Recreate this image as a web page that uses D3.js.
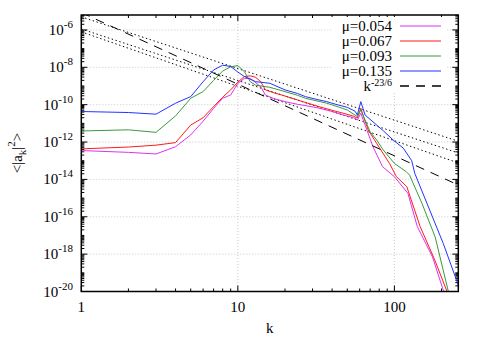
<!DOCTYPE html>
<html>
<head>
<meta charset="utf-8"/>
<script src="https://cdn.jsdelivr.net/npm/d3@7"></script>
<style>
body { margin: 0; background: #fff; }
svg text { font-family: "Liberation Serif", "Times New Roman", "DejaVu Serif", serif; fill: #000; }
.grid { stroke: #bbb; stroke-width: 0.8; stroke-dasharray: 1,2; }
.tick { stroke: #000; stroke-width: 1; }
.curve { fill: none; stroke-width: 1; stroke-linejoin: round; }
</style>
</head>
<body>
<svg id="chart" width="485" height="339" font-family="Liberation Serif, Times New Roman, serif"></svg>
<script>
// spectra <|a_k|^2>, [k, value]
var mu054 = [[1,3.5e-13],[2,2.8e-13],[3,2.3e-13],[4,5.6e-13],[5,2.4e-12],[6,1.3e-11],[7,6.3e-11],[8,2.2e-10],
  [9,3.3e-10],[10,1.4e-9],[11,2.5e-9],[12,2.6e-9],[14,9.1e-10],[15,3.3e-10],[17,2.1e-10],[20,1.45e-10],[24,1.05e-10],
  [28,8.5e-11],[33,6.5e-11],[40,4.3e-11],[47,2.8e-11],[55,2.0e-11],[58,1.5e-11],[61,3.5e-11],[65,8.1e-12],
  [73,5.6e-13],[84,4.8e-14],[100,1.4e-14],[122,1.8e-15],[140,3.0e-17],[175,7.2e-19],[205,1.2e-20],[210,6e-21]];
var mu067 = [[1,4.3e-13],[2,5.4e-13],[3,6.8e-13],[4,9.3e-13],[5,8.1e-12],[6,2.0e-11],[7,7.9e-11],[8,2.5e-10],
  [9,6.2e-10],[10,1.6e-9],[11,3.2e-9],[12,3.5e-9],[13,2.9e-9],[14,1.7e-9],[15,6.2e-10],[17,4.3e-10],[19,3.3e-10],
  [24,1.8e-10],[28,1.2e-10],[33,7.8e-11],[40,5.0e-11],[47,3.5e-11],[55,2.4e-11],[58,1.9e-11],[61,6.5e-11],
  [64,1.9e-11],[68,4.5e-12],[77,8.5e-13],[93,7.2e-14],[103,1.4e-14],[120,4.1e-15],[146,3.0e-17],[181,4.9e-19],
  [215,1.2e-20],[220,6e-21]];
var mu093 = [[1,3.9e-12],[2,4.5e-12],[3,3.3e-12],[4,2.5e-11],[5,2.2e-10],[6,5.0e-10],[7,2.0e-9],[8,6.3e-9],
  [9,1.07e-8],[10,1.23e-8],[11,5.9e-9],[12,1.7e-9],[13,1.1e-9],[16,8.5e-10],[20,5.0e-10],[24,3.2e-10],
  [27,2.2e-10],[33,1.5e-10],[37,1.2e-10],[44,7.5e-11],[50,5.2e-11],[58,2.3e-11],[61,5.2e-11],[65,1.5e-11],
  [70,3.5e-12],[77,1.3e-12],[85,3.7e-13],[100,7.2e-14],[119,2.6e-14],[125,1.7e-14],[150,5.2e-16],
  [182,8.5e-18],[220,1.2e-20],[225,6e-21]];
var mu135 = [[1,4.3e-11],[2,3.8e-11],[3,3.1e-11],[4,1.2e-10],[5,2.7e-10],[6,1.7e-9],[7,7.2e-9],[8,1.3e-8],
  [9,1.1e-8],[10,5.6e-9],[11,3.2e-9],[13,1.7e-9],[16,1.4e-9],[20,6.2e-10],[24,4.0e-10],[27,2.7e-10],
  [32,1.9e-10],[37,1.45e-10],[43,1.0e-10],[50,7.2e-11],[56,4.5e-11],[58,2.8e-11],[61,1.45e-10],[65,2.8e-11],
  [73,1.2e-11],[85,4.0e-12],[98,1.3e-12],[114,4.7e-13],[129,1.0e-13],[135,2.1e-14],[168,2.3e-16],
  [205,3.8e-18],[256,2.2e-20]];

var series = [
  {name: "\u03bc=0.054", color: "#dd33ee", data: mu054},
  {name: "\u03bc=0.067", color: "#ff1a1a", data: mu067},
  {name: "\u03bc=0.093", color: "#3a9a3a", data: mu093},
  {name: "\u03bc=0.135", color: "#2233ff", data: mu135}
];

// power-law guide lines, endpoints [k, value]
var fitDotted = [
  [[1,5.0e-6],[256,1.1e-12]],
  [[1,1.12e-6],[256,2.6e-13]],
  [[1,7.9e-7],[256,7.6e-14]]
];
var refSlope = [[1,8.5e-6],[256,8.5e-6 * Math.pow(256, -23/6)]];

var xTicks = [1, 10, 100];
var yTicks = [-20, -18, -16, -14, -12, -10, -8, -6];

var svg = d3.select("#chart");
var L = 81.3, R = 458.3, T = 15, B = 291.5;
var FONT = "Liberation Serif, Times New Roman, serif";

var x = d3.scaleLog().domain([1, 256]).range([L, R]);
var y = d3.scaleLog().domain([1e-20, 6.3e-6]).range([B, T]);

svg.append("defs").append("clipPath").attr("id", "clip")
  .append("rect").attr("x", L).attr("y", T).attr("width", R - L).attr("height", B - T);

// grid
svg.append("g").selectAll("line").data(xTicks.slice(1)).enter().append("line")
  .attr("class", "grid").attr("x1", d => x(d)).attr("x2", d => x(d)).attr("y1", T).attr("y2", B);
svg.append("g").selectAll("line").data(yTicks.slice(1)).enter().append("line")
  .attr("class", "grid").attr("y1", d => y(Math.pow(10, d))).attr("y2", d => y(Math.pow(10, d)))
  .attr("x1", L).attr("x2", R);

// ticks (inward, mirrored)
var xMinor = [];
[1, 10, 100].forEach(function(b) { for (var i = 2; i <= 9; i++) if (b * i <= 256) xMinor.push(b * i); });
var tg = svg.append("g");
xTicks.forEach(function(d) {
  tg.append("line").attr("class", "tick").attr("x1", x(d)).attr("x2", x(d)).attr("y1", B).attr("y2", B - 6);
  tg.append("line").attr("class", "tick").attr("x1", x(d)).attr("x2", x(d)).attr("y1", T).attr("y2", T + 6);
});
xMinor.forEach(function(d) {
  tg.append("line").attr("class", "tick").attr("x1", x(d)).attr("x2", x(d)).attr("y1", B).attr("y2", B - 3);
  tg.append("line").attr("class", "tick").attr("x1", x(d)).attr("x2", x(d)).attr("y1", T).attr("y2", T + 3);
});
yTicks.forEach(function(d) {
  var yy = y(Math.pow(10, d));
  tg.append("line").attr("class", "tick").attr("x1", L).attr("x2", L + 6).attr("y1", yy).attr("y2", yy);
  tg.append("line").attr("class", "tick").attr("x1", R).attr("x2", R - 6).attr("y1", yy).attr("y2", yy);
});
for (var e = -20; e <= -6; e++) {
  for (var i = 1; i <= 9; i++) {
    var v = i * Math.pow(10, e);
    if (v > 6.3e-6 || (i == 1 && e % 2 == 0)) continue;
    var yy = y(v);
    tg.append("line").attr("class", "tick").attr("x1", L).attr("x2", L + 3).attr("y1", yy).attr("y2", yy);
    tg.append("line").attr("class", "tick").attr("x1", R).attr("x2", R - 3).attr("y1", yy).attr("y2", yy);
  }
}

// tick labels
svg.append("g").selectAll("text").data(xTicks).enter().append("text")
  .attr("x", d => x(d)).attr("y", 312).attr("text-anchor", "middle")
  .attr("font-family", FONT).style("font-size", "15px").text(d => d);

var yl = svg.append("g").selectAll("text").data(yTicks).enter().append("text")
  .attr("x", 73).attr("y", d => y(Math.pow(10, d)) + 5).attr("text-anchor", "end")
  .attr("font-family", FONT).style("font-size", "15px");
yl.append("tspan").text("10");
yl.append("tspan").attr("dy", -7).style("font-size", "11px").text(d => d);

// axis titles
svg.append("text").attr("x", (L + R) / 2).attr("y", 333).attr("text-anchor", "middle")
  .attr("font-family", FONT).style("font-size", "15px").text("k");
var ylab = svg.append("text").attr("transform", "translate(22,153) rotate(-90)")
  .attr("text-anchor", "middle").attr("font-family", FONT).style("font-size", "15px");
ylab.append("tspan").text("<|a");
ylab.append("tspan").attr("dy", 4).style("font-size", "11px").text("k");
ylab.append("tspan").attr("dy", -4).text("|");
ylab.append("tspan").attr("dy", -7).style("font-size", "11px").text("2");
ylab.append("tspan").attr("dy", 7).text(">");

var line = d3.line().x(d => x(d[0])).y(d => y(d[1]));
var plot = svg.append("g").attr("clip-path", "url(#clip)");

plot.selectAll(".fit").data(fitDotted).enter().append("path")
  .attr("class", "curve").attr("stroke", "#000").attr("stroke-width", 1.6)
  .attr("stroke-dasharray", "1.4,2.6").attr("d", line);

plot.selectAll(".spec").data(series).enter().append("path")
  .attr("class", "curve").attr("stroke", d => d.color).attr("d", d => line(d.data));

plot.append("path").datum(refSlope).attr("class", "curve").attr("stroke", "#000")
  .attr("stroke-width", 1.5).attr("stroke-dasharray", "9,7").attr("d", line);

// legend
var lg = svg.append("g");
lg.append("rect").attr("x", 331).attr("y", 17).attr("width", 116).attr("height", 76).attr("fill", "#fff");
var rows = series.concat([{name: "k", sup: "-23/6", color: "#000", dash: "9,7", sw: 1.5}]);
rows.forEach(function(s, i) {
  var cy = 26 + i * 15;
  var t = lg.append("text").attr("x", 392).attr("y", cy + 5).attr("text-anchor", "end")
    .attr("font-family", FONT).style("font-size", "15px");
  t.append("tspan").text(s.name);
  if (s.sup) t.append("tspan").attr("dy", -5).style("font-size", "10px").text(s.sup);
  lg.append("line").attr("x1", 400).attr("x2", 441).attr("y1", cy).attr("y2", cy)
    .attr("stroke", s.color).attr("stroke-width", s.sw || 1)
    .attr("stroke-dasharray", s.dash || null);
});

// border
svg.append("rect").attr("x", L).attr("y", T).attr("width", R - L).attr("height", B - T)
  .attr("fill", "none").attr("stroke", "#000").attr("stroke-width", 1.5);
</script>
</body>
</html>
